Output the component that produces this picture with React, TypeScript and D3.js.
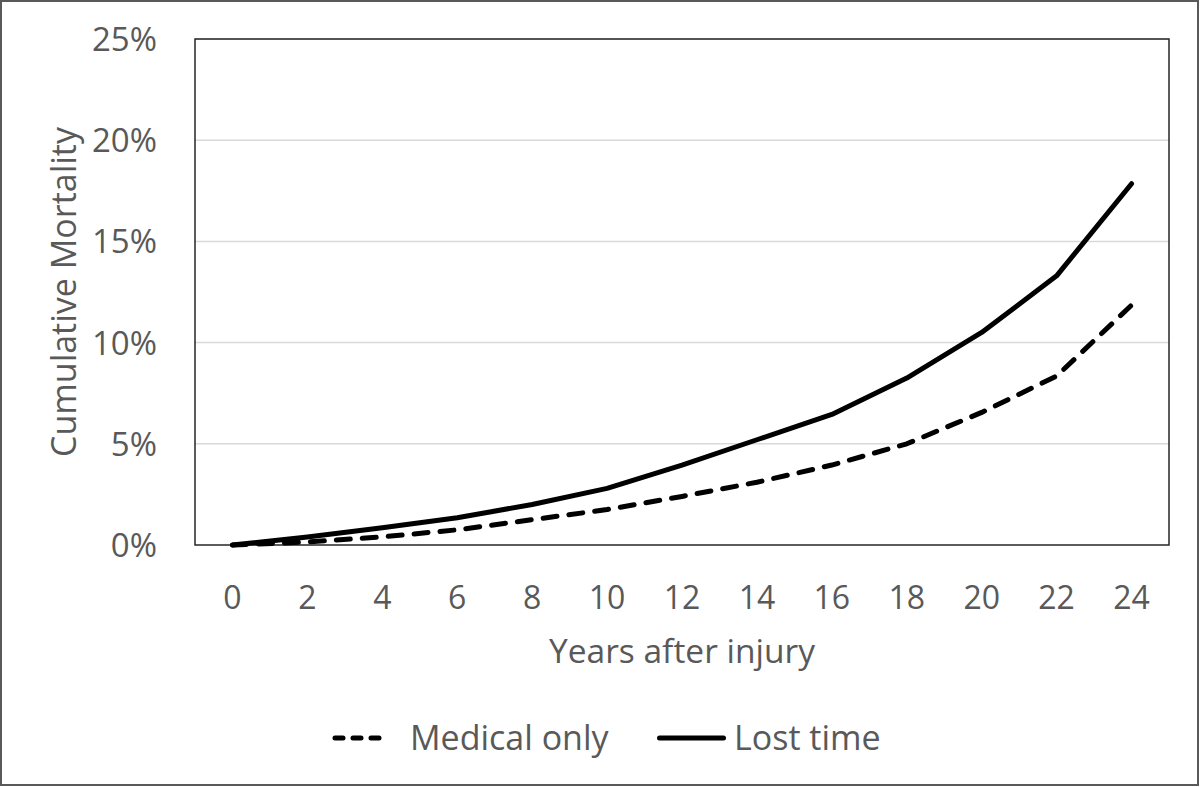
import React from "react";
import * as d3 from "d3";

const years = [0, 2, 4, 6, 8, 10, 12, 14, 16, 18, 20, 22, 24];
const medicalOnly = [0, 0.15, 0.4, 0.75, 1.25, 1.75, 2.4, 3.1, 3.95, 5.0, 6.55, 8.35, 11.85];
const lostTime = [0, 0.4, 0.85, 1.35, 2.0, 2.8, 3.95, 5.2, 6.45, 8.25, 10.5, 13.3, 17.85];
const yTicks = [0, 5, 10, 15, 20, 25];
const seriesNames = ["Medical only", "Lost time"];

const W = 1200;
const H = 787;
const plot = { left: 195, top: 39, right: 1169, bottom: 545 };
const FONT = "'Open Sans', 'Liberation Sans', sans-serif";
const TEXT = "#595959";

export default function App() {
  const x = d3
    .scalePoint<number>()
    .domain(years)
    .range([plot.left, plot.right])
    .padding(0.5);
  const y = d3.scaleLinear().domain([0, 25]).range([plot.bottom, plot.top]);

  const line = d3
    .line<number>()
    .x((_, i) => x(years[i]) as number)
    .y((d) => y(d));

  const cx = (plot.left + plot.right) / 2;

  return (
    <svg
      width={W}
      height={H}
      style={{ position: "absolute", left: 0, top: 0, background: "#fff" }}
    >
      <rect x={1} y={1} width={W - 3} height={H - 3} fill="#fff" stroke="#595959" strokeWidth={2} />
      {yTicks
        .filter((t) => t > 0)
        .map((t) => (
          <line
            key={"g" + t}
            x1={plot.left}
            x2={plot.right}
            y1={y(t)}
            y2={y(t)}
            stroke="#d9d9d9"
            strokeWidth={1.5}
          />
        ))}
      <rect
        x={plot.left}
        y={plot.top}
        width={plot.right - plot.left}
        height={plot.bottom - plot.top}
        fill="none"
        stroke="#262626"
        strokeWidth={1.5}
      />
      {yTicks.map((t) => (
        <text
          key={"yl" + t}
          x={157}
          y={y(t) + 12}
          textAnchor="end"
          fontFamily={FONT}
          fontSize={33}
          fill={TEXT}
        >
          {t + "%"}
        </text>
      ))}
      {years.map((yr) => (
        <text
          key={"xl" + yr}
          x={x(yr)}
          y={609}
          textAnchor="middle"
          fontFamily={FONT}
          fontSize={32}
          fill={TEXT}
        >
          {yr}
        </text>
      ))}
      <text
        x={cx}
        y={663}
        textAnchor="middle"
        fontFamily={FONT}
        fontSize={33.5}
        fill={TEXT}
      >
        Years after injury
      </text>
      <text
        transform={`translate(76, ${(plot.top + plot.bottom) / 2}) rotate(-90)`}
        textAnchor="middle"
        fontFamily={FONT}
        fontSize={34}
        fill={TEXT}
      >
        Cumulative Mortality
      </text>
      <path
        d={line(medicalOnly) || ""}
        fill="none"
        stroke="#000"
        strokeWidth={5}
        strokeDasharray="14 12"
        strokeLinecap="round"
        strokeLinejoin="round"
      />
      <path
        d={line(lostTime) || ""}
        fill="none"
        stroke="#000"
        strokeWidth={5}
        strokeLinecap="round"
        strokeLinejoin="round"
      />
      <line
        x1={335}
        x2={379}
        y1={738}
        y2={738}
        stroke="#000"
        strokeWidth={5}
        strokeDasharray="8 10"
        strokeLinecap="round"
      />
      <text x={410} y={750} fontFamily={FONT} fontSize={34} fill={TEXT}>
        {seriesNames[0]}
      </text>
      <line x1={659.5} x2={723.5} y1={738} y2={738} stroke="#000" strokeWidth={5} strokeLinecap="round" />
      <text x={734} y={750} fontFamily={FONT} fontSize={34} fill={TEXT}>
        {seriesNames[1]}
      </text>
    </svg>
  );
}
